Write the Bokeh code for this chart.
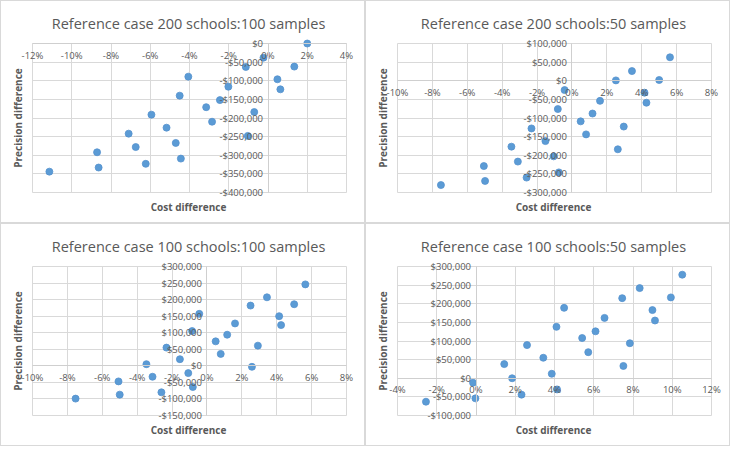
from bokeh.plotting import figure
from bokeh.layouts import gridplot
from bokeh.models import Range1d, FixedTicker, NumeralTickFormatter, Title
from bokeh.embed import file_html
from bokeh.resources import INLINE

FONT = "Open Sans"
TEXT = "#595959"
GRID = "#d9d9d9"
AXIS = "#cfcfcf"
DOT_FILL = "#5B9BD5"
DOT_LINE = "#5592CE"

# ---- Panel 1: Reference case 200 schools:100 samples ----
title_1 = "Reference case 200 schools:100 samples"
cost_1 = [2.0, -0.23, -1.13, 1.34, -4.06, 0.48, 0.63, -2.02, -4.5, -2.45, -3.15, -0.70,
          -5.94, -2.85, -5.17, -7.1, -1.03, -4.7, -6.74, -8.71, -4.44, -6.23, -8.63, -11.14]
prec_1 = [0, -38000, -63000, -62000, -89000, -96000, -123000, -116000, -140000, -152000,
          -171000, -184000, -191000, -210000, -226000, -242000, -248000, -267000, -278000,
          -292000, -309000, -323000, -333000, -344000]
xticks_1 = [-12, -10, -8, -6, -4, -2, 0, 2, 4]
yticks_1 = [-400000, -350000, -300000, -250000, -200000, -150000, -100000, -50000, 0]

# ---- Panel 2: Reference case 200 schools:50 samples ----
title_2 = "Reference case 200 schools:50 samples"
cost_2 = [5.62, 3.44, 2.52, 5.0, 4.16, 4.27, -0.42, 1.61, -0.81, 1.18, 0.50, 0.81,
          2.97, -2.32, -1.52, -3.47, 2.63, -1.05, -3.1, -5.05, -0.75, -2.6, -4.98, -7.51]
prec_2 = [63000, 26000, 1000, 2000, -32000, -59000, -25000, -54000, -76000, -88000,
          -109000, -144000, -123000, -128000, -162000, -177000, -184000, -203000, -217000,
          -229000, -246000, -260000, -269000, -280000]
xticks_2 = [-10, -8, -6, -4, -2, 0, 2, 4, 6, 8]
yticks_2 = [-300000, -250000, -200000, -150000, -100000, -50000, 0, 50000, 100000]

# ---- Panel 3: Reference case 100 schools:100 samples ----
title_3 = "Reference case 100 schools:100 samples"
cost_3 = [5.64, 3.44, 5.0, 2.5, -0.44, 4.14, 1.61, 4.25, -0.85, 1.16, 0.50, 2.92,
          -2.32, 0.79, -1.55, -3.47, 2.58, -1.07, -3.12, -5.07, -0.81, -2.61, -5.0, -7.53]
prec_3 = [246000, 207000, 186000, 182000, 157000, 150000, 128000, 123000, 105000, 94000,
          74000, 61000, 55000, 36000, 20000, 5000, -3000, -22000, -33000, -47000,
          -64000, -80000, -87000, -99000]
xticks_3 = [-10, -8, -6, -4, -2, 0, 2, 4, 6, 8]
yticks_3 = [-150000, -100000, -50000, 0, 50000, 100000, 150000, 200000, 250000, 300000]

# ---- Panel 4: Reference case 100 schools:50 samples ----
title_4 = "Reference case 100 schools:50 samples"
cost_4 = [10.51, 8.34, 7.45, 9.93, 4.49, 8.99, 9.12, 6.55, 4.10, 6.09, 5.41, 7.84,
          2.60, 5.72, 3.43, 1.44, 7.51, 3.86, 1.84, -0.15, 4.13, 2.32, -0.03, -2.55]
prec_4 = [278000, 242000, 215000, 217000, 189000, 183000, 155000, 162000, 138000, 126000,
          108000, 94000, 89000, 70000, 55000, 38000, 33000, 12000, 0, -12000,
          -30000, -44000, -54000, -63000]
xticks_4 = [-4, -2, 0, 2, 4, 6, 8, 10, 12]
yticks_4 = [-100000, -50000, 0, 50000, 100000, 150000, 200000, 250000, 300000]

# panel geometry (pixels)
W, H = 365, 223
BOX_L, BOX_R, BOX_T, BOX_B = 31, 20, 42, 32      # margins round the gridded box
PAD_L, PAD_R, PAD_T, PAD_B = 12, 10, 7, 7        # room inside frame for edge tick labels


def make_panel(title, cost, prec, xticks, yticks):
    xmin, xmax = xticks[0] / 100, xticks[-1] / 100
    ymin, ymax = yticks[0], yticks[-1]
    box_w = W - BOX_L - BOX_R
    box_h = H - BOX_T - BOX_B
    dx = (xmax - xmin) / box_w
    dy = (ymax - ymin) / box_h

    p = figure(width=W, height=H, output_backend="svg", toolbar_location=None,
               x_range=Range1d(xmin - PAD_L * dx, xmax + PAD_R * dx),
               y_range=Range1d(ymin - PAD_B * dy, ymax + PAD_T * dy),
               min_border_left=BOX_L - PAD_L, min_border_right=BOX_R - PAD_R,
               min_border_top=BOX_T - PAD_T, min_border_bottom=BOX_B - PAD_B,
               title=title, styles={"border": "1px solid #d9d9d9"})
    p.title.align = "center"
    p.title.text_font = FONT
    p.title.text_font_size = "14.5px"
    p.title.text_font_style = "normal"
    p.title.text_color = TEXT
    p.title.standoff = 7

    for ax in (p.xaxis, p.yaxis):
        ax.fixed_location = 0
        ax.major_tick_in = 0
        ax.major_tick_out = 0
        ax.minor_tick_line_color = None
        ax.axis_line_color = AXIS
        ax.major_label_text_font = FONT
        ax.major_label_text_font_size = "9.5px"
        ax.major_label_text_color = TEXT
        ax.major_label_standoff = 5
    p.xaxis.ticker = FixedTicker(ticks=[t / 100 for t in xticks])
    p.xaxis.formatter = NumeralTickFormatter(format="0%")
    p.xaxis.bounds = (xmin, xmax)
    p.yaxis.ticker = FixedTicker(ticks=yticks)
    p.yaxis.formatter = NumeralTickFormatter(format="$0,0")
    p.yaxis.bounds = (ymin, ymax)

    p.xgrid.grid_line_color = GRID
    p.ygrid.grid_line_color = GRID
    p.xgrid.bounds = (xmin, xmax)
    p.ygrid.bounds = (ymin, ymax)
    p.xgrid.cross_bounds = (ymin, ymax)
    p.ygrid.cross_bounds = (xmin, xmax)
    p.outline_line_color = None

    p.add_layout(Title(text="Cost difference", align="center", text_font=FONT,
                       text_font_size="10px", text_font_style="bold",
                       text_color=TEXT, standoff=3 - PAD_B), "below")
    p.add_layout(Title(text="Precision difference", align="center", text_font=FONT,
                       text_font_size="10px", text_font_style="bold",
                       text_color=TEXT, standoff=3 - PAD_L), "left")

    p.scatter([c / 100 for c in cost], prec, size=7, fill_color=DOT_FILL,
              line_color=DOT_LINE, line_width=0.8)
    return p


p1 = make_panel(title_1, cost_1, prec_1, xticks_1, yticks_1)
p2 = make_panel(title_2, cost_2, prec_2, xticks_2, yticks_2)
p3 = make_panel(title_3, cost_3, prec_3, xticks_3, yticks_3)
p4 = make_panel(title_4, cost_4, prec_4, xticks_4, yticks_4)

grid = gridplot([[p1, p2], [p3, p4]], toolbar_location=None)

open("out.html", "w").write(file_html(grid, INLINE))
